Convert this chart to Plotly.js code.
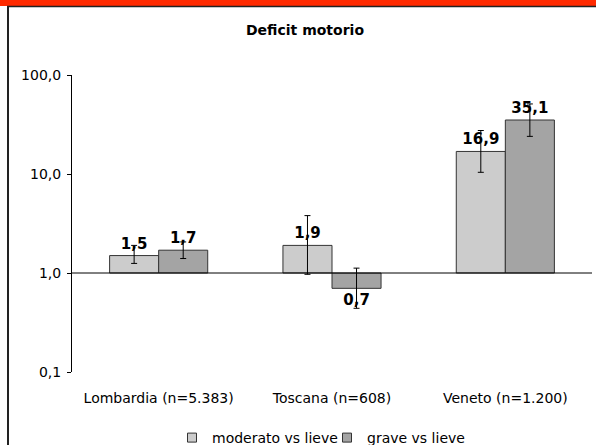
<!DOCTYPE html>
<html>
<head>
<meta charset="utf-8">
<script src="https://cdn.plot.ly/plotly-3.0.1.min.js"></script>
<style>
  html, body { margin: 0; padding: 0; background: #ffffff; }
  #chart { width: 596px; height: 445px; }
</style>
</head>
<body>
<div id="chart"></div>
<script>
// ---- data ----
const categories = ['Lombardia (n=5.383)', 'Toscana (n=608)', 'Veneto (n=1.200)'];
const seriesNames = ['moderato vs lieve', 'grave vs lieve'];
const moderato = [1.5, 1.9, 16.9];
const moderatoLow = [1.25, 0.97, 10.4];
const moderatoHigh = [1.9, 3.8, 27.5];
const grave = [1.7, 0.7, 35.1];
const graveLow = [1.4, 0.44, 24.0];
const graveHigh = [2.06, 1.12, 51.0];
const yTickVals = [0.1, 1, 10, 100];
const yTickText = ['0,1', '1,0', '10,0', '100,0'];
const baseline = 1;
const chartTitle = 'Deficit motorio';

// ---- style ----
const FONT = 'DejaVu Sans';
const colors = ['#CCCCCC', '#A4A4A4'];
const W = 596, H = 445;
const M = { l: 72, r: 4, t: 75, b: 73, autoexpand: false };
const pw = W - M.l - M.r, ph = H - M.t - M.b;
const px = x => (x - M.l) / pw;
const py = y => 1 - (y - M.t) / ph;
const fmt = v => v.toFixed(1).replace('.', ',');

function barTrace(name, vals, lows, highs, color) {
  return {
    type: 'bar',
    name: name,
    x: categories,
    y: vals.map(v => v - baseline),
    base: baseline,
    marker: { color: color, line: { color: '#333333', width: 1 } },
    text: vals.map(fmt),
    textposition: 'outside',
    constraintext: 'none',
    cliponaxis: false,
    textfont: { family: FONT, size: 15, color: '#000000', weight: 'bold' },
    error_y: {
      type: 'data', symmetric: false,
      array: highs.map((h, i) => h - vals[i]),
      arrayminus: lows.map((l, i) => vals[i] - l),
      color: '#000000', thickness: 1, width: 3
    },
    showlegend: false,
    hoverinfo: 'skip'
  };
}

function legendTrace(name, color) {
  return {
    type: 'scatter', mode: 'markers', name: name,
    x: [null], y: [null],
    marker: { symbol: 'square', size: 9, color: color, line: { color: '#333333', width: 1 } },
    showlegend: true, hoverinfo: 'skip'
  };
}

const data = [
  barTrace(seriesNames[0], moderato, moderatoLow, moderatoHigh, colors[0]),
  barTrace(seriesNames[1], grave, graveLow, graveHigh, colors[1]),
  legendTrace(seriesNames[0], colors[0]),
  legendTrace(seriesNames[1], colors[1])
];

const shapes = [
  // horizontal axis crossing at 1,0
  { type: 'line', xref: 'paper', yref: 'y', x0: 0, x1: 1, y0: baseline, y1: baseline,
    line: { color: '#000000', width: 1 } },
  // frame decoration
  { type: 'rect', xref: 'paper', yref: 'paper', x0: px(0), x1: px(W), y0: py(0), y1: py(6),
    fillcolor: '#FF2A00', line: { width: 0 }, layer: 'above' },
  { type: 'line', xref: 'paper', yref: 'paper', x0: px(7), x1: px(W), y0: py(6.5), y1: py(6.5),
    line: { color: '#222222', width: 1.5 } },
  { type: 'line', xref: 'paper', yref: 'paper', x0: px(8), x1: px(8), y0: py(6), y1: py(H),
    line: { color: '#222222', width: 2 } }
];
// category divider ticks on the crossing axis
[0.5, 1.5, 2.5].forEach(xv => {
  shapes.push({ type: 'line', xref: 'x', yref: 'y', ysizemode: 'pixel', yanchor: baseline,
    x0: xv, x1: xv, y0: -1, y1: -5, line: { color: '#000000', width: 1 } });
});

const layout = {
  width: W, height: H,
  margin: M,
  paper_bgcolor: '#ffffff', plot_bgcolor: 'rgba(0,0,0,0)',
  font: { family: FONT, size: 14, color: '#000000' },
  separators: ',.',
  title: {
    text: chartTitle,
    font: { family: FONT, size: 14, color: '#000000', weight: 'bold' },
    xref: 'container', yref: 'container',
    x: 305 / W, xanchor: 'center', y: 1 - 30 / H, yanchor: 'middle'
  },
  barmode: 'group', bargap: 0.434, bargroupgap: 0,
  xaxis: {
    type: 'category', range: [-0.5, 2.5],
    showline: false, ticks: '', showgrid: false, zeroline: false,
    tickfont: { family: FONT, size: 14, color: '#000000' },
    ticklabelstandoff: 16, fixedrange: true, automargin: false
  },
  yaxis: {
    type: 'log', range: [-1, 2],
    tickvals: yTickVals, ticktext: yTickText,
    showline: true, linecolor: '#000000', linewidth: 1,
    ticks: 'outside', ticklen: 4, tickcolor: '#000000', tickwidth: 1,
    showgrid: false, zeroline: false,
    tickfont: { family: FONT, size: 14, color: '#000000' },
    ticklabelstandoff: 3, fixedrange: true, automargin: false
  },
  legend: {
    orientation: 'h', xref: 'paper', x: px(172), xanchor: 'left',
    y: py(438), yanchor: 'middle',
    entrywidth: 110, entrywidthmode: 'pixels',
    font: { family: FONT, size: 14, color: '#000000' },
    itemwidth: 30, tracegroupgap: 0, bgcolor: 'rgba(0,0,0,0)'
  },
  shapes: shapes,
  showlegend: true
};

Plotly.newPlot('chart', data, layout, { displayModeBar: false, staticPlot: true });
</script>
</body>
</html>
